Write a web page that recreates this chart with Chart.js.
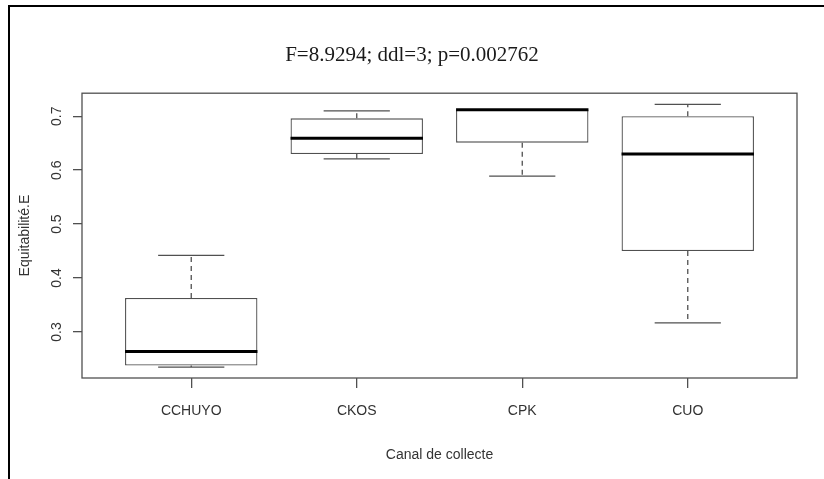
<!DOCTYPE html>
<html>
<head>
<meta charset="utf-8">
<script src="https://cdn.jsdelivr.net/npm/chart.js@4.4.1/dist/chart.umd.min.js"></script>
<style>
  html, body { margin: 0; padding: 0; background: #fff; overflow: hidden; }
  #wrap { position: relative; width: 824px; height: 479px; }
  #frame { position: absolute; left: 8px; top: 5px; width: 900px; height: 600px;
           border-left: 2px solid #000; border-top: 2px solid #000; }
  canvas { position: absolute; left: 0; top: 0; }
</style>
</head>
<body>
<div id="wrap">
  <div id="frame"></div>
  <canvas id="boxChart" width="824" height="479"></canvas>
</div>
<script>
// boxplot stats
const categories = ['CCHUYO', 'CKOS', 'CPK', 'CUO'];
const whiskerLow  = [0.235, 0.621, 0.589, 0.317];
const q1          = [0.238, 0.630, 0.651, 0.450];
const medians     = [0.264, 0.659, 0.712, 0.630];
const q3          = [0.363, 0.696, 0.712, 0.700];
const whiskerHigh = [0.442, 0.710, 0.712, 0.722];
const yTicks = [0.3, 0.4, 0.5, 0.6, 0.7];

const lineGrey = '#505050';
const textGrey = '#333333';

// whiskers + medians + plot frame, drawn through the scales
const boxExtras = {
  id: 'boxExtras',
  afterDatasetsDraw(chart) {
    const { ctx, chartArea, scales: { x, y } } = chart;
    ctx.save();
    categories.forEach((c, i) => {
      const cx = x.getPixelForValue(i + 1);
      const capL = x.getPixelForValue(i + 1 - 0.2);
      const capR = x.getPixelForValue(i + 1 + 0.2);
      const boxL = x.getPixelForValue(i + 1 - 0.4);
      const boxR = x.getPixelForValue(i + 1 + 0.4);

      // dashed whiskers
      ctx.strokeStyle = lineGrey;
      ctx.lineWidth = 1.3;
      ctx.setLineDash([5, 4]);
      ctx.beginPath();
      ctx.moveTo(cx, y.getPixelForValue(q3[i]));
      ctx.lineTo(cx, y.getPixelForValue(whiskerHigh[i]));
      ctx.moveTo(cx, y.getPixelForValue(q1[i]));
      ctx.lineTo(cx, y.getPixelForValue(whiskerLow[i]));
      ctx.stroke();

      // caps
      ctx.setLineDash([]);
      ctx.beginPath();
      ctx.moveTo(capL, y.getPixelForValue(whiskerHigh[i]));
      ctx.lineTo(capR, y.getPixelForValue(whiskerHigh[i]));
      ctx.moveTo(capL, y.getPixelForValue(whiskerLow[i]));
      ctx.lineTo(capR, y.getPixelForValue(whiskerLow[i]));
      ctx.stroke();

      // median
      ctx.strokeStyle = '#000';
      ctx.lineWidth = 3;
      ctx.beginPath();
      ctx.moveTo(boxL, y.getPixelForValue(medians[i]));
      ctx.lineTo(boxR, y.getPixelForValue(medians[i]));
      ctx.stroke();
    });

    // box round the plot region
    ctx.strokeStyle = lineGrey;
    ctx.lineWidth = 1.3;
    ctx.strokeRect(chartArea.left, chartArea.top,
                   chartArea.right - chartArea.left, chartArea.bottom - chartArea.top);
    ctx.restore();
  }
};

new Chart(document.getElementById('boxChart'), {
  type: 'bar',
  data: {
    datasets: [{
      data: categories.map((c, i) => ({ x: i + 1, y: [q1[i], q3[i]] })),
      backgroundColor: '#ffffff',
      borderColor: lineGrey,
      borderWidth: 1.3,
      borderSkipped: false,
      categoryPercentage: 1,
      barPercentage: 0.8
    }]
  },
  options: {
    responsive: false,
    animation: false,
    layout: { padding: 0 },
    plugins: {
      legend: { display: false },
      tooltip: { enabled: false },
      title: {
        display: true,
        text: 'F=8.9294; ddl=3; p=0.002762',
        color: '#1a1a1a',
        font: { family: 'Liberation Serif', size: 21, weight: 'normal' },
        padding: { top: 43, bottom: 25 }
      }
    },
    scales: {
      x: {
        type: 'linear',
        min: 0.34,
        max: 4.66,
        offset: false,
        afterBuildTicks: (axis) => { axis.ticks = categories.map((c, i) => ({ value: i + 1 })); },
        afterFit: (axis) => { axis.height = 101; },
        grid: { offset: false, drawOnChartArea: false, tickLength: 10, color: lineGrey, lineWidth: 1.3 },
        border: { display: false },
        ticks: {
          color: textGrey,
          padding: 15,
          font: { family: 'Liberation Sans', size: 14 },
          callback: (v) => categories[v - 1] || ''
        },
        title: {
          display: true,
          text: 'Canal de collecte',
          color: textGrey,
          font: { family: 'Liberation Sans', size: 14 },
          padding: { top: 0, bottom: 15 }
        }
      },
      y: {
        min: 0.2148,
        max: 0.7426,
        afterBuildTicks: (axis) => { axis.ticks = yTicks.map(v => ({ value: v })); },
        afterFit: (axis) => { axis.width = 82; },
        grid: { drawOnChartArea: false, tickLength: 9, color: lineGrey, lineWidth: 1.3 },
        border: { display: false },
        ticks: {
          color: textGrey,
          padding: 6,
          minRotation: 90,
          maxRotation: 90,
          crossAlign: 'center',
          font: { family: 'Liberation Sans', size: 14 },
          callback: (v) => v.toFixed(1)
        },
        title: {
          display: true,
          text: 'Equitabilité.E',
          color: textGrey,
          font: { family: 'Liberation Sans', size: 14 },
          padding: { top: 17, bottom: 0 }
        }
      },
      // empty right margin so the title centres on the whole figure
      yRight: {
        position: 'right',
        display: true,
        grid: { display: false },
        border: { display: false },
        ticks: { display: false },
        afterFit: (axis) => { axis.width = 27; }
      }
    }
  },
  plugins: [boxExtras]
});
</script>
</body>
</html>
